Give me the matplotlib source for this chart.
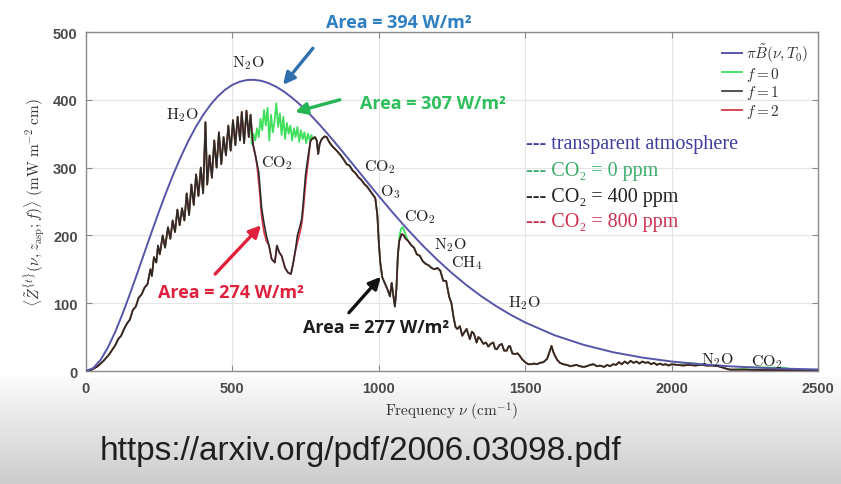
import numpy as np
import matplotlib
matplotlib.use("Agg")
import matplotlib.pyplot as plt

plt.rcParams['mathtext.fontset'] = 'cm'

# ---------------- data ----------------
nu_planck = [0, 25, 50, 75, 100, 125, 150, 175, 200, 225, 250, 275, 300, 325, 350, 375, 400,
             425, 450, 475, 500, 525, 550, 575, 600, 625, 650, 675, 700, 725, 750, 775, 800,
             825, 850, 875, 900, 925, 950, 975, 1000, 1050, 1100, 1150, 1200, 1250, 1300,
             1350, 1400, 1450, 1500, 1600, 1700, 1800, 1900, 2000, 2100, 2200, 2300, 2400, 2500]
planck_vals = [0, 4.4, 16.5, 34.8, 57.9, 84.5, 113.6, 144.0, 175.1, 206.0, 236.1, 264.9,
               292.0, 317.0, 339.7, 360.0, 377.6, 392.6, 405.0, 414.8, 422.0, 426.7, 429.2,
               429.5, 427.9, 424.3, 419.1, 412.5, 404.3, 395.2, 384.9, 373.9, 362.2, 349.9,
               337.2, 324.2, 311.0, 297.7, 284.4, 271.1, 258.0, 232.4, 208.0, 185.1, 163.9,
               144.3, 126.4, 110.3, 95.9, 83.0, 71.6, 52.8, 38.5, 27.7, 19.8, 14.0, 9.9, 6.9,
               4.8, 3.3, 2.3]

nu_f1 = [0, 20, 40, 60, 80, 100, 110, 120, 130, 140, 150, 160, 170, 180, 190, 200, 210, 220,
         225, 232, 240, 246, 252, 262, 270, 280, 288, 296, 304, 312, 320, 328, 336, 344, 352,
         360, 368, 376, 384, 392, 400, 408, 414, 422, 430, 438, 446, 454, 462, 470, 478, 486,
         494, 502, 510, 518, 526, 532, 540, 548, 556, 562, 570, 580, 590, 600, 608, 616, 625,
         634, 645, 652, 660, 668, 680, 690, 700, 708, 714, 722, 731, 737, 742, 750, 759, 766,
         771, 782, 788, 793, 798, 805, 815, 822, 830, 840, 856, 870, 880, 890, 900, 910, 920,
         930, 940, 950, 960, 970, 980, 988, 995, 1000, 1005, 1012, 1020, 1030, 1038, 1044,
         1050, 1055, 1060, 1065, 1070, 1078, 1085, 1092, 1100, 1110, 1120, 1130, 1140, 1150,
         1160, 1170, 1180, 1190, 1200, 1210, 1220, 1230, 1240, 1248, 1255, 1262, 1268, 1277,
         1285, 1292, 1300, 1311, 1318, 1325, 1334, 1340, 1346, 1357, 1366, 1374, 1382, 1391,
         1397, 1403, 1412, 1420, 1428, 1437, 1443, 1448, 1456, 1465, 1474, 1482, 1490, 1500,
         1510, 1520, 1530, 1540, 1550, 1562, 1575, 1583, 1590, 1596, 1602, 1610, 1619, 1630,
         1642, 1655, 1664, 1675, 1687, 1700, 1710, 1722, 1733, 1745, 1755, 1770, 1780, 1790,
         1800, 1810, 1820, 1830, 1840, 1850, 1860, 1870, 1880, 1890, 1900, 1910, 1920, 1930,
         1940, 1950, 1960, 1970, 1980, 1990, 2000, 2020, 2040, 2060, 2080, 2100, 2120, 2140,
         2160, 2175, 2190, 2200, 2250, 2300, 2350, 2400, 2450, 2500]
f1_vals = [0, 2, 7, 15, 25, 38, 47, 52, 62, 70, 76, 90, 95, 108, 113, 123, 128, 150,
           140, 168, 160, 185, 172, 200, 182, 212, 195, 222, 205, 238, 215, 240, 222, 262, 230,
           275, 245, 290, 258, 300, 262, 367, 275, 318, 285, 340, 300, 352, 305, 345, 318, 362,
           325, 370, 333, 375, 340, 382, 336, 384, 345, 378, 335, 315, 293, 240, 218, 200, 185,
           165, 160, 185, 175, 170, 152, 145, 143, 160, 175, 200, 214, 225, 249, 290, 318, 338,
           342, 345, 340, 320, 335, 342, 346, 345, 338, 332, 325, 318, 312, 305, 303, 296, 292,
           286, 282, 276, 272, 266, 260, 255, 230, 190, 160, 138, 130, 120, 110, 130,
           110, 95, 120, 170, 192, 202, 200, 195, 192, 186, 182, 172, 170, 162,
           158, 156, 152, 150, 152, 148, 133, 133, 110, 100, 80, 65, 62, 66,
           52, 57, 62, 47, 58, 55, 42, 50, 48, 40, 42, 36, 40, 42,
           33, 32, 38, 40, 30, 30, 36, 37, 26, 25, 26, 22, 17, 13,
           10, 10, 11, 10, 12, 13, 18, 28, 37, 28, 22, 16, 12, 10,
           9, 7, 8, 9, 7, 6, 7, 9, 10, 7, 8, 6, 9, 7,
           10, 9, 13, 10, 14, 11, 15, 12, 14, 11, 14, 12, 13, 10,
           12, 9, 11, 9, 10, 8, 10, 9, 8, 9, 8, 9, 8, 8,
           7, 5, 3, 2, 2, 1.5, 1.5, 1.5, 1.5, 1.5]

# f = 0 (no CO2): differs from f = 1 only inside the CO2 bands
nu_f0_bands = [[566, 572, 578, 584, 590, 596, 602, 608, 614, 620, 626, 632, 638, 644, 650,
                656, 662, 668, 674, 680, 686, 692, 698, 704, 710, 716, 722, 728, 734, 740,
                746, 752, 758, 764, 770, 776, 782],
               [1070, 1076, 1082, 1088, 1094],
               [2040, 2060, 2080, 2100],
               [2240, 2260, 2300, 2350, 2390, 2410]]
f0_bands = [[335, 350, 340, 358, 345, 372, 355, 385, 362, 388, 340, 378, 352, 368, 395,
             360, 380, 348, 375, 342, 366, 350, 362, 340, 358, 345, 360, 338, 355, 342,
             352, 336, 350, 340, 348, 342, 345],
            [198, 210, 212, 205, 198],
            [10, 12, 11, 10],
            [3, 5, 5.5, 5, 4.5, 2]]

# f = 2 (doubled CO2): differs from f = 1 on the CO2 band wings
nu_f2_bands = [[585, 592, 600, 608, 616], [722, 731, 737, 742, 750, 759]]
f2_bands = [[300, 270, 228, 205, 192], [190, 205, 218, 238, 278, 310]]

x_ticks = [0, 500, 1000, 1500, 2000, 2500]
y_ticks = [0, 100, 200, 300, 400, 500]


def merge(nu_base, v_base, nu_segs, v_segs):
    nu = list(nu_base)
    v = list(v_base)
    for ns, vs in zip(nu_segs, v_segs):
        keep = [(a, b) for a, b in zip(nu, v) if a < ns[0] or a > ns[-1]]
        keep += list(zip(ns, vs))
        keep.sort()
        nu = [a for a, _ in keep]
        v = [b for _, b in keep]
    return nu, v


nu_f0, f0_vals = merge(nu_f1, f1_vals, nu_f0_bands, f0_bands)
nu_f2, f2_vals = merge(nu_f1, f1_vals, nu_f2_bands, f2_bands)

# ---------------- figure ----------------
W, H = 841, 485
fig = plt.figure(figsize=(W / 100, H / 100), dpi=100)

# background: white top, grey gradient at the bottom
bg = fig.add_axes([0, 0, 1, 1], zorder=-10)
rows = np.ones(H)
start = 378
rows[start:] = np.linspace(0.98, 0.80, H - start)
grad = np.tile(rows[:, None], (1, 50))
bg.imshow(grad, cmap='gray', vmin=0, vmax=1, aspect='auto', extent=[0, 1, 0, 1])
bg.axis('off')

L, R, T, B = 86, 818, 33, 372
ax = fig.add_axes([L / W, 1 - B / H, (R - L) / W, (B - T) / H])
ax.set_facecolor('white')

c_blue = '#5656a8'
c_green = '#3ee05c'
c_black = '#2a2a2a'
c_red = '#d83a4a'

h0, = ax.plot(nu_planck, planck_vals, color=c_blue, lw=1.4, zorder=3)
hg, = ax.plot(nu_f0, f0_vals, color=c_green, lw=1.3, zorder=2)
l2, = ax.plot(nu_f2, f2_vals, color=c_red, lw=1.3, zorder=2.5)
l1, = ax.plot(nu_f1, f1_vals, color=c_black, lw=1.15, zorder=2.7)

ax.set_xlim(0, 2500)
ax.set_ylim(0, 500)
ax.set_xticks(x_ticks)
ax.set_yticks(y_ticks)
ax.grid(True, color='#e4e4e4', lw=0.8)
ax.set_axisbelow(True)
for s in ax.spines.values():
    s.set_color('#8a8a8a')
    s.set_linewidth(1.0)
ax.tick_params(direction='in', top=True, right=True, length=4, color='#8a8a8a')
for lab in ax.get_xticklabels() + ax.get_yticklabels():
    lab.set_family('Liberation Sans')
    lab.set_fontweight('bold')
    lab.set_fontsize(10.5)
    lab.set_color('#4a4a4a')
ax.tick_params(axis='x', pad=7)
ax.tick_params(axis='y', pad=6)

ax.set_xlabel(r'$\mathrm{Frequency}\ \nu\ (\mathrm{cm}^{-1})$', fontsize=11, color='#333333', labelpad=4)
ax.set_ylabel(r'$\langle\tilde{Z}^{\{t\}}(\nu,z_{\mathrm{asp}};f)\rangle\ (\mathrm{mW\ m^{-2}\ cm})$',
              fontsize=11, color='#333333', labelpad=4)

handles = [h0, hg, l1, l2]
labels = [r'$\pi\tilde{B}(\nu,T_0)$', r'$f=0$', r'$f=1$', r'$f=2$']
leg = ax.legend(handles, labels, loc='upper right', frameon=False, fontsize=11,
                handlelength=1.3, handletextpad=0.3, labelspacing=0.05,
                borderaxespad=0.2)
for t in leg.get_texts():
    t.set_color('#333333')

# molecule labels
mol = [(r'$\mathrm{N_2O}$', 554, 456), (r'$\mathrm{H_2O}$', 331, 379),
       (r'$\mathrm{CO_2}$', 652, 308), (r'$\mathrm{CO_2}$', 1004, 302),
       (r'$\mathrm{O_3}$', 1038, 266), (r'$\mathrm{CO_2}$', 1141, 229),
       (r'$\mathrm{N_2O}$', 1243, 187), (r'$\mathrm{CH_4}$', 1301, 161),
       (r'$\mathrm{H_2O}$', 1499, 102), (r'$\mathrm{N_2O}$', 2158, 18),
       (r'$\mathrm{CO_2}$', 2326, 15)]
for s, x, y in mol:
    ax.text(x, y, s, fontsize=11.5, color='#222222', ha='center', va='center', zorder=5)

# area annotations
afont = dict(family='Open Sans', fontweight='bold', fontsize=13, ha='center', va='center')
ax.text(1069, 515, 'Area = 394 W/m²', color='#2d7fc1', clip_on=False, **afont)
ax.text(1185, 395, 'Area = 307 W/m²', color='#2fbf5c', **afont)
ax.text(495, 117, 'Area = 274 W/m²', color='#e0203c', **afont)
ax.text(990, 65, 'Area = 277 W/m²', color='#1e1e1e', **afont)


def arrow(x0, y0, x1, y1, col):
    ax.annotate('', xy=(x1, y1), xytext=(x0, y0),
                arrowprops=dict(arrowstyle='-|>,head_length=0.7,head_width=0.35',
                                color=col, lw=2.4, shrinkA=0, shrinkB=0), zorder=6)


arrow(775, 476, 673, 422, '#2f6fae')
arrow(867, 400, 714, 382, '#25b553')
arrow(441, 143, 598, 215, '#e0203c')
arrow(898, 86, 1007, 139, '#111111')

# legend-like coloured captions
sfont = dict(family=['Liberation Serif', 'DejaVu Serif'], fontsize=14.5, ha='left', va='center')
ax.text(1503, 335, '--- transparent atmosphere', color='#3d3d9c', **sfont)
ax.text(1503, 295, '--- CO₂ = 0 ppm', color='#3aae6c', **sfont)
ax.text(1503, 258, '--- CO₂ = 400 ppm', color='#222222', **sfont)
ax.text(1503, 221, '--- CO₂ = 800 ppm', color='#cf3050', **sfont)

fig.text(361 / W, 1 - 452 / H, 'https://arxiv.org/pdf/2006.03098.pdf',
         fontsize=24, family='Liberation Sans', color='#1f1f1f', ha='center', va='center')

fig.savefig('out.png', dpi=100)
